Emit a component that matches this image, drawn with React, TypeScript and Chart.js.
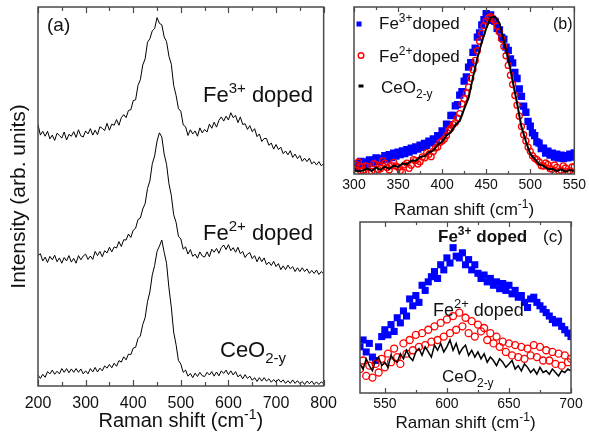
import { useEffect, useRef } from "react";
import { Chart, registerables } from "chart.js";

Chart.register(...registerables);

const FONT = "'Liberation Sans', Arial, Helvetica, sans-serif";

// ---------- Panel (a): full spectra ----------
const shiftA = [
  200, 205, 210, 215, 220, 225, 230, 235, 240, 245,
  250, 255, 260, 265, 270, 275, 280, 285, 290, 295,
  300, 305, 310, 315, 320, 325, 330, 335, 340, 345,
  350, 355, 360, 365, 370, 375, 380, 385, 390, 395,
  400, 405, 410, 415, 420, 425, 430, 435, 440, 445,
  450, 455, 460, 465, 470, 475, 480, 485, 490, 495,
  500, 505, 510, 515, 520, 525, 530, 535, 540, 545,
  550, 555, 560, 565, 570, 575, 580, 585, 590, 595,
  600, 605, 610, 615, 620, 625, 630, 635, 640, 645,
  650, 655, 660, 665, 670, 675, 680, 685, 690, 695,
  700, 705, 710, 715, 720, 725, 730, 735, 740, 745,
  750, 755, 760, 765, 770, 775, 780, 785, 790, 795,
  800,
];
const fe3A = [
  69.0, 66.2, 67.2, 65.9, 67.2, 65.2, 66.2, 64.8, 66.7, 66.1,
  65.4, 67.0, 64.9, 66.4, 65.9, 67.1, 65.6, 67.6, 66.0, 65.7,
  67.3, 66.5, 67.9, 66.2, 67.5, 66.3, 68.4, 68.0, 67.4, 69.3,
  67.5, 69.1, 68.8, 70.3, 68.8, 70.8, 71.6, 70.8, 72.7, 72.9,
  75.3, 75.5, 79.3, 80.8, 84.7, 86.3, 90.7, 91.6, 93.7, 94.3,
  97.2, 95.7, 95.3, 92.1, 90.9, 87.0, 84.9, 79.3, 76.7, 73.2,
  72.5, 68.9, 68.4, 66.1, 67.6, 66.5, 67.3, 65.9, 68.1, 66.8,
  67.7, 67.0, 69.1, 68.0, 69.6, 68.3, 70.1, 71.0, 69.9, 71.2,
  70.2, 72.1, 70.8, 71.4, 69.5, 71.0, 69.0, 69.2, 67.7, 68.7,
  67.1, 67.9, 65.8, 66.5, 64.5, 65.3, 65.3, 63.5, 64.1, 62.5,
  63.7, 62.4, 63.0, 61.3, 62.0, 61.0, 62.1, 60.3, 61.2, 60.0,
  60.8, 59.3, 60.1, 59.2, 60.1, 58.6, 59.2, 58.3, 59.2, 58.1,
  58.7,
];
const fe2A = [
  34.4, 34.9, 33.0, 34.0, 32.6, 34.2, 33.3, 34.5, 32.8, 33.8,
  32.4, 33.9, 33.0, 34.4, 32.7, 33.7, 32.4, 34.4, 33.3, 34.3,
  34.8, 33.4, 34.3, 33.4, 35.5, 34.4, 35.5, 34.1, 35.7, 35.1,
  36.6, 35.4, 36.7, 36.4, 38.1, 36.8, 38.6, 38.5, 40.1, 39.2,
  41.1, 41.6, 43.9, 44.3, 46.7, 48.1, 52.1, 54.1, 58.6, 60.7,
  64.6, 66.8, 65.7, 61.2, 58.5, 53.4, 50.3, 45.2, 43.2, 39.5,
  38.8, 36.1, 36.7, 34.8, 36.0, 34.2, 34.8, 33.7, 35.4, 34.3,
  34.0, 35.4, 34.1, 36.1, 35.3, 36.3, 35.0, 36.5, 37.2, 36.0,
  37.3, 35.7, 36.5, 35.3, 36.6, 34.9, 35.5, 33.9, 34.8, 35.2,
  33.6, 34.4, 32.8, 34.1, 32.8, 33.8, 32.0, 32.7, 31.8, 32.9,
  31.5, 32.3, 30.7, 31.7, 30.7, 31.9, 30.9, 31.5, 30.2, 31.2,
  30.2, 31.2, 30.2, 30.9, 29.7, 30.5, 29.7, 30.6, 29.4, 30.2,
  29.6,
];
const ceoA = [
  2.9, 2.0, 3.1, 2.3, 3.8, 3.2, 4.2, 3.1, 3.9, 3.2,
  4.6, 3.6, 4.6, 3.5, 4.5, 3.6, 4.6, 3.6, 4.5, 3.2,
  4.0, 3.2, 4.6, 3.7, 4.9, 3.7, 4.7, 4.0, 5.3, 4.7,
  5.7, 4.8, 6.0, 5.2, 6.7, 6.3, 7.7, 6.9, 8.4, 8.3,
  10.0, 10.2, 12.5, 13.2, 16.2, 18.0, 22.3, 24.8, 29.3, 31.8,
  35.5, 36.9, 38.5, 35.3, 32.4, 25.9, 20.8, 14.2, 10.9, 6.7,
  5.8, 3.6, 4.2, 2.6, 3.3, 2.2, 3.4, 2.5, 3.6, 2.7,
  2.5, 3.6, 2.9, 3.8, 2.6, 3.7, 2.7, 4.0, 3.3, 4.2,
  3.0, 4.0, 2.9, 3.8, 2.4, 3.0, 1.9, 3.0, 2.0, 2.6,
  1.5, 2.2, 1.2, 2.2, 1.3, 2.2, 1.3, 1.9, 1.0, 1.7,
  1.0, 1.8, 1.0, 1.6, 0.7, 1.4, 0.7, 1.6, 0.7, 1.4,
  0.6, 1.2, 0.4, 1.3, 0.6, 1.3, 0.4, 1.1, 0.4, 1.1,
  0.6,
];
const ticksA = [200, 300, 400, 500, 600, 700, 800];
const minorA = [250, 350, 450, 550, 650, 750];

// ---------- Panel (b): normalized F2g region ----------
const shiftB = [
  300, 302.5, 305, 307.5, 310, 312.5, 315, 317.5, 320, 322.5,
  325, 327.5, 330, 332.5, 335, 337.5, 340, 342.5, 345, 347.5,
  350, 352.5, 355, 357.5, 360, 362.5, 365, 367.5, 370, 372.5,
  375, 377.5, 380, 382.5, 385, 387.5, 390, 392.5, 395, 397.5,
  400, 402.5, 405, 407.5, 410, 412.5, 415, 417.5, 420, 422.5,
  425, 427.5, 430, 432.5, 435, 437.5, 440, 442.5, 445, 447.5,
  450, 452.5, 455, 457.5, 460, 462.5, 465, 467.5, 470, 472.5,
  475, 477.5, 480, 482.5, 485, 487.5, 490, 492.5, 495, 497.5,
  500, 502.5, 505, 507.5, 510, 512.5, 515, 517.5, 520, 522.5,
  525, 527.5, 530, 532.5, 535, 537.5, 540, 542.5, 545, 547.5,
  550,
];
const fe3B = [
  6.2, 4.4, 5.6, 7.5, 5.0, 7.2, 5.9, 8.4, 6.6, 8.1,
  9.6, 7.4, 9.4, 8.3, 11.0, 9.0, 11.5, 9.9, 12.4, 10.8,
  13.0, 11.6, 13.8, 12.3, 14.6, 13.1, 15.4, 14.0, 16.2, 14.9,
  17.2, 16.0, 18.3, 17.2, 19.6, 18.6, 21.0, 20.5, 23.0, 22.6,
  25.8, 25.0, 29.9, 29.6, 35.0, 35.1, 40.8, 41.5, 47.2, 49.3,
  55.6, 58.1, 64.0, 66.6, 72.8, 75.4, 82.0, 84.5, 89.2, 92.4,
  96.0, 93.8, 95.2, 92.0, 91.4, 87.3, 86.2, 81.8, 80.8, 76.0,
  74.0, 68.9, 66.5, 60.8, 57.2, 50.9, 46.5, 40.6, 37.0, 31.5,
  28.6, 24.6, 23.0, 19.2, 18.5, 15.3, 15.4, 12.6, 13.6, 11.3,
  12.5, 10.2, 11.8, 9.6, 11.2, 9.3, 10.9, 9.7, 11.8, 10.2,
  12.6,
];
const fe2B = [
  3.0, 5.6, 7.2, 1.8, 2.1, 4.9, 4.6, 0.8, 1.5, 6.2,
  5.8, 2.6, 3.2, 7.8, 6.4, 3.9, 2.4, 5.1, 7.0, 4.8,
  4.1, 2.0, 1.2, 5.5, 6.5, 3.4, 5.2, 8.6, 8.1, 6.0,
  7.4, 10.2, 9.6, 12.8, 11.8, 10.4, 13.5, 15.6, 16.2, 18.9,
  19.8, 21.0, 23.0, 26.1, 27.4, 29.6, 30.8, 33.5, 36.2, 42.0,
  45.1, 48.4, 52.0, 57.3, 62.5, 68.0, 73.8, 79.5, 84.2, 88.9,
  91.6, 93.4, 94.2, 93.0, 91.8, 88.6, 85.0, 80.9, 76.4, 70.8,
  65.0, 59.2, 53.6, 47.0, 41.2, 34.6, 28.4, 23.5, 19.8, 16.1,
  13.6, 11.0, 9.4, 8.6, 7.2, 5.0, 4.8, 6.6, 5.6, 3.2,
  2.8, 5.4, 4.0, 1.6, 2.2, 4.9, 3.6, 1.4, 1.9, 4.2,
  4.4,
];
const shiftBLine = [
  300, 305, 310, 315, 320, 325, 330, 335, 340, 345,
  350, 355, 360, 365, 370, 375, 380, 385, 390, 395,
  400, 405, 410, 415, 420, 425, 430, 435, 440, 445,
  450, 455, 460, 465, 470, 475, 480, 485, 490, 495,
  500, 505, 510, 515, 520, 525, 530, 535, 540, 545,
  550,
];
const ceoB = [
  2.4, 1.6, 2.1, 3.3, 1.8, 3.9, 2.5, 4.4, 3.1, 5.0,
  4.3, 6.3, 5.8, 8.1, 7.9, 10.2, 10.7, 13.0, 14.1, 17.5,
  19.3, 23.0, 25.1, 29.4, 31.8, 39.0, 45.6, 58.0, 69.4, 79.1,
  87.1, 93.7, 94.2, 90.5, 79.8, 68.9, 55.6, 42.5, 28.2, 19.7,
  12.0, 9.1, 5.8, 4.9, 2.9, 3.1, 1.7, 2.8, 1.4, 2.4,
  1.6,
];
const ticksB = [300, 350, 400, 450, 500, 550];
const minorB = [325, 375, 425, 475, 525];

// ---------- Panel (c): 600 cm-1 band ----------
const shiftC = [
  530, 532.5, 535, 537.5, 540, 542.5, 545, 547.5, 550, 552.5,
  555, 557.5, 560, 562.5, 565, 567.5, 570, 572.5, 575, 577.5,
  580, 582.5, 585, 587.5, 590, 592.5, 595, 597.5, 600, 602.5,
  605, 607.5, 610, 612.5, 615, 617.5, 620, 622.5, 625, 627.5,
  630, 632.5, 635, 637.5, 640, 642.5, 645, 647.5, 650, 652.5,
  655, 657.5, 660, 662.5, 665, 667.5, 670, 672.5, 675, 677.5,
  680, 682.5, 685, 687.5, 690, 692.5, 695, 697.5,
  700,
];
const fe3C = [
  27, 31, 24, 29, 21, 19, 27, 33, 37, 34,
  40, 36, 44, 41, 48, 45, 55, 51, 57, 53,
  63, 60, 65, 68, 71, 67, 75, 72, 79, 76,
  85, 80, 79, 82, 75, 78, 72, 75, 70, 67,
  69, 65, 67, 63, 65, 61, 64, 60, 63, 58,
  60, 56, 57, 53, 50, 55, 56, 53, 51, 49,
  47, 45, 43, 41, 42, 39, 37, 35,
  33,
];
const fe2C = [
  14, 19, 10, 16, 9, 17, 12, 20, 15, 23,
  18, 26, 21, 17, 29, 23, 31, 25, 34, 27,
  35, 28, 37, 30, 39, 31, 41, 33, 43, 35,
  45, 37, 47, 39, 44, 35, 42, 33, 40, 36,
  38, 31, 35, 29, 33, 27, 30, 24, 29, 22,
  28, 21, 27, 20, 26, 22, 28, 21, 27, 19,
  25, 19, 24, 17, 23, 16, 22, 18,
  20,
];
const ceoC = [
  17, 14, 20, 16, 13, 19, 21, 16, 18, 15,
  22, 19, 18, 23, 20, 25, 21, 19, 24, 26,
  22, 27, 24, 21, 28, 25, 29, 24, 27, 31,
  25, 29, 23, 26, 28, 22, 25, 21, 24, 20,
  23, 18, 21, 19, 16, 20, 18, 15, 17, 19,
  14, 16, 13, 17, 15, 12, 14, 11, 15, 12,
  13, 11, 14, 12, 10, 13, 12, 14,
  13,
];
const ticksC = [550, 600, 650, 700];
const minorC = [575, 625, 675];

// ---------- helpers ----------
type Seg = [string, ("sup" | "sub")?];
interface TextItem { dx: number; dy: number; size: number; bold?: boolean; segs: Seg[] }
interface Marker { kind: "rect" | "circle" | "dash"; dx: number; dy: number }

const pts = (xs: number[], ys: number[]) => xs.map((x, i) => ({ x, y: ys[i] }));

function drawRich(
  ctx: CanvasRenderingContext2D, x: number, y: number, segs: Seg[],
  size: number, bold = false, align: "left" | "center" = "left",
) {
  const w = bold ? "bold " : "";
  const small = Math.round(size * 0.7);
  const fonts = segs.map(([, k]) => `${w}${k ? small : size}px ${FONT}`);
  const widths = segs.map(([t], i) => { ctx.font = fonts[i]; return ctx.measureText(t).width; });
  const total = widths.reduce((a, b) => a + b, 0);
  let cx = align === "center" ? x - total / 2 : x;
  ctx.textAlign = "left";
  ctx.textBaseline = "alphabetic";
  segs.forEach(([t, k], i) => {
    ctx.font = fonts[i];
    const oy = k === "sup" ? -size * 0.42 : k === "sub" ? size * 0.28 : 0;
    ctx.fillText(t, cx, y + oy);
    cx += widths[i];
  });
}

interface PanelCfg {
  id: string;
  xMin: number; xMax: number;
  ticks: number[]; minors: number[];
  tickSize: number; tickPad: number; axisH: number;
  padding: { left: number; right: number; top: number; bottom: number };
  majorLen: number; minorLen: number;
  xTitleSize: number; xTitleDy: number;
  yTitle?: { x: number; size: number };
  texts: TextItem[];
  markers: Marker[];
  datasets: any[];
}

const xTitleSegs: Seg[] = [["Raman shift (cm"], ["-1", "sup"], [")"]];

function makePlugin(cfg: PanelCfg) {
  return {
    id: "decor-" + cfg.id,
    afterDraw(chart: any) {
      const { ctx, chartArea: a, scales } = chart;
      const xs = scales.x;
      ctx.save();
      ctx.strokeStyle = "#4a4a4a";
      ctx.lineWidth = 1.5;
      ctx.strokeRect(a.left, a.top, a.right - a.left, a.bottom - a.top);
      ctx.lineWidth = 1.2;
      ctx.beginPath();
      const tick = (v: number, len: number) => {
        const px = Math.round(xs.getPixelForValue(v)) + 0.5;
        ctx.moveTo(px, a.bottom);
        ctx.lineTo(px, a.bottom - len);
        ctx.moveTo(px, a.top);
        ctx.lineTo(px, a.top + len);
      };
      cfg.ticks.forEach((v) => tick(v, cfg.majorLen));
      cfg.minors.forEach((v) => tick(v, cfg.minorLen));
      ctx.stroke();
      ctx.fillStyle = "#111";
      drawRich(ctx, (a.left + a.right) / 2, a.bottom + cfg.xTitleDy, xTitleSegs, cfg.xTitleSize, false, "center");
      if (cfg.yTitle) {
        ctx.save();
        ctx.translate(cfg.yTitle.x, (a.top + a.bottom) / 2);
        ctx.rotate(-Math.PI / 2);
        ctx.font = `${cfg.yTitle.size}px ${FONT}`;
        ctx.textAlign = "center";
        ctx.textBaseline = "middle";
        ctx.fillText("Intensity (arb. units)", 0, 0);
        ctx.restore();
      }
      cfg.texts.forEach((t) => drawRich(ctx, a.left + t.dx, a.top + t.dy, t.segs, t.size, t.bold));
      cfg.markers.forEach((m) => {
        const mx = a.left + m.dx;
        const my = a.top + m.dy;
        if (m.kind === "rect") {
          ctx.fillStyle = "#0000ff";
          ctx.fillRect(mx - 2.5, my - 2.5, 5, 5);
        } else if (m.kind === "circle") {
          ctx.strokeStyle = "#ff0000";
          ctx.lineWidth = 1.4;
          ctx.beginPath();
          ctx.arc(mx, my, 2.8, 0, Math.PI * 2);
          ctx.stroke();
        } else {
          ctx.fillStyle = "#000";
          ctx.fillRect(mx - 2.5, my - 1.5, 5, 3);
        }
      });
      ctx.restore();
    },
  };
}

function buildConfig(cfg: PanelCfg): any {
  return {
    type: "line",
    data: { datasets: cfg.datasets },
    options: {
      responsive: false,
      maintainAspectRatio: false,
      animation: false,
      devicePixelRatio: 1,
      layout: { padding: cfg.padding },
      plugins: { legend: { display: false }, tooltip: { enabled: false } },
      events: [],
      scales: {
        x: {
          type: "linear",
          min: cfg.xMin,
          max: cfg.xMax,
          grid: { display: false, drawTicks: false },
          border: { display: false },
          ticks: {
            font: { family: FONT, size: cfg.tickSize },
            color: "#111",
            padding: cfg.tickPad,
            maxRotation: 0,
            autoSkip: false,
          },
          afterBuildTicks: (s: any) => { s.ticks = cfg.ticks.map((v) => ({ value: v })); },
          afterFit: (s: any) => { s.height = cfg.axisH; },
        },
        y: { display: false, min: 0, max: 100 },
      },
    },
    plugins: [makePlugin(cfg)],
  };
}

const lineDs = (data: any[], width: number) => ({
  data, borderColor: "#000", borderWidth: width, pointRadius: 0, tension: 0, fill: false,
});
const blueDs = (data: any[], r: number) => ({
  data, showLine: false, pointStyle: "rect", pointRadius: r, pointBackgroundColor: "#0000ff",
  pointBorderWidth: 0, pointBorderColor: "#0000ff", clip: 0,
});
const redDs = (data: any[], r: number) => ({
  data, showLine: false, pointStyle: "circle", pointRadius: r, pointBackgroundColor: "rgba(0,0,0,0)",
  pointBorderColor: "#ff0000", pointBorderWidth: 1.3, clip: 0,
});

const feSup = (n: string, sp: string): Seg[] => [["Fe"], [n, "sup"], [sp + "doped"]];
const ceoSub: Seg[] = [["CeO"], ["2-y", "sub"]];

const cfgA: PanelCfg = {
  id: "a", xMin: 200, xMax: 800, ticks: ticksA, minors: minorA,
  tickSize: 16, tickPad: 8, axisH: 30,
  padding: { left: 38, right: 17, top: 7, bottom: 24 },
  majorLen: 6, minorLen: 4, xTitleSize: 20, xTitleDy: 41,
  yTitle: { x: 19, size: 21 },
  texts: [
    { dx: 9, dy: 24, size: 19, segs: [["(a)"]] },
    { dx: 165, dy: 95, size: 22, segs: feSup("3+", " ") },
    { dx: 165, dy: 233, size: 22, segs: feSup("2+", " ") },
    { dx: 182, dy: 350, size: 22, segs: ceoSub },
  ],
  markers: [],
  datasets: [lineDs(pts(shiftA, fe3A), 1), lineDs(pts(shiftA, fe2A), 1), lineDs(pts(shiftA, ceoA), 1)],
};

const cfgB: PanelCfg = {
  id: "b", xMin: 300, xMax: 550, ticks: ticksB, minors: minorB,
  tickSize: 14, tickPad: 3, axisH: 26,
  padding: { left: 19, right: 14, top: 7, bottom: 20 },
  majorLen: 5, minorLen: 3, xTitleSize: 17, xTitleDy: 41,
  texts: [
    { dx: 25, dy: 22, size: 17, segs: feSup("3+", "") },
    { dx: 25, dy: 55, size: 17, segs: feSup("2+", "") },
    { dx: 27, dy: 86, size: 17, segs: ceoSub },
    { dx: 199, dy: 22, size: 16, segs: [["(b)"]] },
  ],
  markers: [
    { kind: "rect", dx: 5, dy: 17 },
    { kind: "circle", dx: 7, dy: 48.5 },
    { kind: "dash", dx: 7, dy: 79 },
  ],
  datasets: [lineDs(pts(shiftBLine, ceoB), 2), redDs(pts(shiftB, fe2B), 3), blueDs(pts(shiftB, fe3B), 5.2)],
};

const cfgC: PanelCfg = {
  id: "c", xMin: 530, xMax: 700, ticks: ticksC, minors: minorC,
  tickSize: 14, tickPad: 3, axisH: 27,
  padding: { left: 25, right: 18, top: 7, bottom: 20 },
  majorLen: 5, minorLen: 3, xTitleSize: 17, xTitleDy: 35,
  texts: [
    { dx: 78, dy: 20, size: 17, bold: true, segs: feSup("3+", " ") },
    { dx: 183, dy: 20, size: 17, segs: [["(c)"]] },
    { dx: 73, dy: 94, size: 18, segs: feSup("2+", " ") },
    { dx: 82, dy: 160, size: 17, segs: ceoSub },
  ],
  markers: [],
  datasets: [lineDs(pts(shiftC, ceoC), 1.5), redDs(pts(shiftC, fe2C), 3.5), blueDs(pts(shiftC, fe3C), 5)],
};

function Panel({ cfg, left, top, width, height }: { cfg: PanelCfg; left: number; top: number; width: number; height: number }) {
  const ref = useRef<HTMLCanvasElement>(null);
  useEffect(() => {
    const chart = new Chart(ref.current as HTMLCanvasElement, buildConfig(cfg));
    return () => chart.destroy();
  }, [cfg]);
  return (
    <canvas
      ref={ref}
      width={width}
      height={height}
      style={{ position: "absolute", left, top, width, height }}
    />
  );
}

export default function App() {
  return (
    <div style={{ position: "absolute", left: 0, top: 0, width: 589, height: 440, background: "#fff", overflow: "hidden" }}>
      <Panel cfg={cfgA} left={0} top={0} width={345} height={440} />
      <Panel cfg={cfgB} left={335} top={0} width={254} height={220} />
      <Panel cfg={cfgC} left={335} top={215} width={254} height={225} />
    </div>
  );
}
